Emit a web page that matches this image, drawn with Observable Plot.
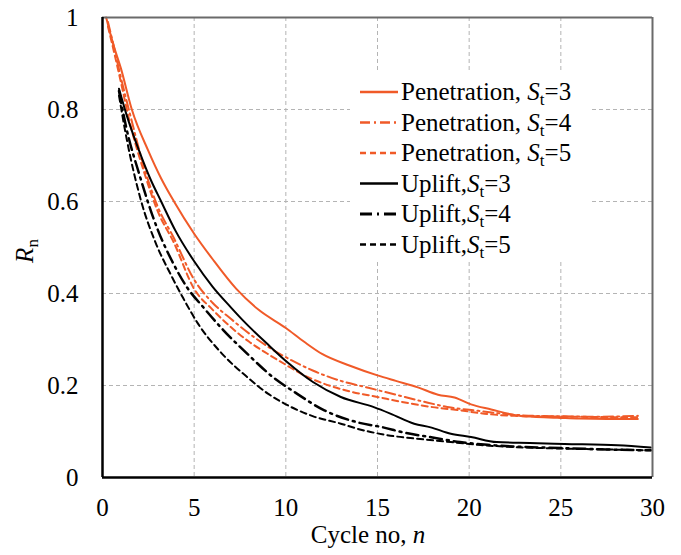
<!DOCTYPE html>
<html><head><meta charset="utf-8">
<script src="https://cdn.jsdelivr.net/npm/d3@7"></script>
<script src="https://cdn.jsdelivr.net/npm/@observablehq/plot@0.6"></script>
<style>body{margin:0;background:#fff} #chart{position:relative;width:681px;height:555px}
#chart svg text{font-family:"Liberation Serif","Times New Roman",serif !important}</style>
</head><body><div id="chart"></div>
<script>
// ---- data ----
const xTicks = [0, 5, 10, 15, 20, 25, 30];
const yTicks = [0, 0.2, 0.4, 0.6, 0.8, 1];
const yTickLabels = ["0", "0.2", "0.4", "0.6", "0.8", "1"];

const pen3_n = [0.2,0.6,1.0,1.6,2.5,3.2,3.9,5,6,7.3,8.5,10,11,12,13.5,15,16,17.2,18.3,19.2,20.1,21.2,22.6,23.5,24.8,26,27.5,29.2];
const pen3_R = [1.0,0.94,0.89,0.80,0.71,0.65,0.60,0.53,0.475,0.41,0.365,0.325,0.295,0.268,0.243,0.222,0.21,0.196,0.180,0.174,0.159,0.148,0.135,0.132,0.130,0.128,0.127,0.127];

const pen4_n = [0.3,0.6,1.0,1.5,2.3,3.0,3.9,5,6,7,8.1,9,10.3,11.5,13,14.5,16,17.5,19,20.5,22,23.5,25,27,29.2];
const pen4_R = [0.99,0.94,0.87,0.79,0.67,0.59,0.52,0.43,0.38,0.345,0.31,0.285,0.255,0.232,0.21,0.195,0.18,0.165,0.152,0.145,0.138,0.134,0.133,0.132,0.134];

const pen5_n = [0.3,0.6,1.0,1.5,2.3,3.0,3.9,5,6,7,8,9,10,11,12,13.5,15,16.5,18,19.5,21,22.5,24,26,28,29.2];
const pen5_R = [0.98,0.93,0.86,0.77,0.66,0.58,0.51,0.41,0.365,0.327,0.295,0.269,0.245,0.222,0.205,0.187,0.175,0.163,0.153,0.146,0.138,0.134,0.133,0.132,0.131,0.131];

const up3_n = [0.9,1.3,2.0,2.6,3.2,4.0,5,6,7,7.7,9,10.1,11.5,13,14.8,15.7,17,17.9,19,20.1,21.5,23.3,25.2,28.1,29.9];
const up3_R = [0.845,0.79,0.71,0.65,0.60,0.535,0.47,0.415,0.37,0.34,0.29,0.25,0.207,0.175,0.153,0.139,0.117,0.109,0.095,0.088,0.077,0.075,0.073,0.07,0.065];

const up4_n = [0.9,1.3,2.0,3.0,3.8,4.6,5.5,6.6,8,9.3,10.5,12.1,13.9,15.3,16.4,18,19.5,21,22.6,25,27.5,29.9];
const up4_R = [0.84,0.76,0.66,0.54,0.47,0.414,0.37,0.32,0.265,0.218,0.185,0.146,0.12,0.109,0.098,0.087,0.077,0.071,0.067,0.064,0.061,0.059];

const up5_n = [0.9,1.3,2.1,2.9,3.7,4.4,5.2,6.5,7.9,9,10.3,11.5,13,13.9,15.7,17.5,19,20.5,22.6,25,27.5,29.9];
const up5_R = [0.83,0.74,0.602,0.51,0.443,0.39,0.335,0.27,0.218,0.183,0.153,0.133,0.117,0.106,0.091,0.083,0.077,0.071,0.066,0.063,0.061,0.059];

const seriesPrefix = ["Penetration, ", "Penetration, ", "Penetration, ", "Uplift,", "Uplift,", "Uplift,"];
const seriesSt = ["3", "4", "5", "3", "4", "5"];

// ---- styles ----
const ORANGE = "#f05a28";
const styles = [
  {stroke: ORANGE, dash: null, w: 2},
  {stroke: ORANGE, dash: "10,4,2,4", w: 2},
  {stroke: ORANGE, dash: "6,4", w: 2},
  {stroke: "#000", dash: null, w: 2},
  {stroke: "#000", dash: "12,5,2,5", w: 2.5},
  {stroke: "#000", dash: "6,4", w: 2}
];
const seriesN = [pen3_n, pen4_n, pen5_n, up3_n, up4_n, up5_n];
const seriesR = [pen3_R, pen4_R, pen5_R, up3_R, up4_R, up5_R];

const data = seriesN.flatMap((ns, k) => ns.map((n, i) => ({k, n, R: seriesR[k][i]})));

const FONT = '"Liberation Serif", "Times New Roman", serif';
const FS = 25;

const plot = Plot.plot({
  width: 681, height: 555,
  marginLeft: 102, marginRight: 29, marginTop: 17, marginBottom: 78,
  style: {fontFamily: FONT, fontSize: FS + "px", background: "#fff", color: "#000", overflow: "visible"},
  x: {domain: [0, 30]},
  y: {domain: [0, 1]},
  marks: [
    Plot.gridX(xTicks.filter(t => t > 0 && t < 30), {stroke: "#b4b4b4", strokeOpacity: 1, strokeDasharray: "4,3", strokeWidth: 1}),
    Plot.gridY(yTicks.filter(t => t > 0 && t < 1), {stroke: "#b4b4b4", strokeOpacity: 1, strokeDasharray: "4,3", strokeWidth: 1}),
    Plot.axisX(xTicks, {tickSize: 0, tickPadding: 21, label: null, fontFamily: FONT, fontSize: FS, fill: "#000"}),
    Plot.axisY(yTicks, {tickSize: 0, tickPadding: 24, label: null, fontFamily: FONT, fontSize: FS, fill: "#000",
      tickFormat: d => yTickLabels[yTicks.indexOf(d)]}),
    ...styles.map((s, k) => Plot.line(data.filter(d => d.k === k), {
      x: "n", y: "R", stroke: s.stroke, strokeWidth: s.w,
      strokeDasharray: s.dash || undefined, curve: "monotone-x"
    })),
    Plot.ruleX([30], {stroke: "#6a6a6a", strokeWidth: 2}),
    Plot.ruleY([1], {stroke: "#6a6a6a", strokeWidth: 2}),
    Plot.ruleX([0], {stroke: "#000", strokeWidth: 2.5}),
    Plot.ruleY([0], {stroke: "#000", strokeWidth: 2.5})
  ]
});
document.getElementById("chart").appendChild(plot);

const svg = d3.select(plot);
svg.selectAll("text").style("font-family", FONT);

// legend
const lg = svg.append("g").attr("font-family", FONT).attr("font-size", FS).attr("fill", "#000").attr("text-anchor", "start");
lg.append("rect").attr("x", 350).attr("y", 73).attr("width", 240).attr("height", 189).attr("fill", "#fff");
const rowY = [92, 122.5, 153, 183.5, 214, 244.5];
styles.forEach((s, k) => {
  const y = rowY[k];
  lg.append("line").attr("x1", 360).attr("x2", 398).attr("y1", y).attr("y2", y)
    .attr("stroke", s.stroke).attr("stroke-width", s.w + 0.5)
    .attr("stroke-dasharray", s.dash || null);
  const t = lg.append("text").attr("x", 401).attr("y", y + 8).attr("text-anchor", "start");
  t.append("tspan").text(seriesPrefix[k]);
  t.append("tspan").attr("font-style", "italic").text("S");
  t.append("tspan").attr("font-size", 17).attr("dy", 5).text("t");
  t.append("tspan").attr("dy", -5).text("=" + seriesSt[k]);
});

// axis labels
const xl = svg.append("text").attr("x", 368).attr("y", 543).attr("text-anchor", "middle")
  .attr("font-family", FONT).attr("font-size", FS).attr("fill", "#000");
xl.append("tspan").text("Cycle no, ");
xl.append("tspan").attr("font-style", "italic").text("n");

const yl = svg.append("text").attr("transform", "translate(33,251) rotate(-90)").attr("text-anchor", "middle")
  .attr("font-family", FONT).attr("font-size", FS).attr("fill", "#000");
yl.append("tspan").attr("font-style", "italic").text("R");
yl.append("tspan").attr("font-size", 17).attr("dy", 5).text("n");
</script>
</body></html>
